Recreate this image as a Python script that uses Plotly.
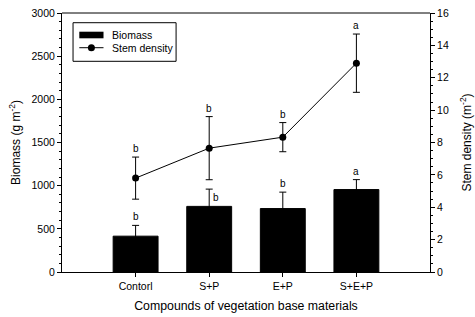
import plotly.graph_objects as go

categories = ["Contorl", "S+P", "E+P", "S+E+P"]
biomass = [415, 760, 735, 955]
biomass_err = [125, 200, 190, 115]
biomass_letters = ["b", "b", "b", "a"]
stem_density = [5.8, 7.65, 8.33, 12.9]
stem_err = [1.3, 1.95, 0.9, 1.8]
stem_letters = ["b", "b", "b", "a"]

FONT = "Liberation Sans, Arial, sans-serif"
BLACK = "#000000"

# pixel offsets for significance letters on bars (S+P letter sits beside its error bar)
bar_letter_shift = {"S+P": (7, -16)}

fig = go.Figure()
fig.add_trace(go.Bar(
    x=categories, y=biomass, name="Biomass",
    marker=dict(color=BLACK, line=dict(color=BLACK, width=1)),
    width=0.61,
    error_y=dict(type="data", array=biomass_err, color=BLACK, thickness=1, width=3.5),
    yaxis="y", showlegend=False,
))
fig.add_trace(go.Scatter(
    x=categories, y=stem_density, name="Stem density",
    mode="lines+markers",
    line=dict(color=BLACK, width=1),
    marker=dict(color=BLACK, size=7),
    error_y=dict(type="data", array=stem_err, color=BLACK, thickness=1, width=3.5),
    yaxis="y2", showlegend=False,
))

annotations = []
for c, v, e, t in zip(categories, biomass, biomass_err, biomass_letters):
    dx, dy = bar_letter_shift.get(c, (0, 1))
    annotations.append(dict(x=c, y=v + e, xref="x", yref="y", text=t, showarrow=False,
                            yanchor="bottom", xshift=dx, yshift=dy,
                            font=dict(size=10, color=BLACK, family=FONT)))
for c, v, e, t in zip(categories, stem_density, stem_err, stem_letters):
    annotations.append(dict(x=c, y=v + e, xref="x", yref="y2", text=t, showarrow=False,
                            yanchor="bottom", yshift=1,
                            font=dict(size=10, color=BLACK, family=FONT)))

# manual legend (box, wide bar swatch, line+marker swatch, labels)
annotations += [
    dict(x=0.1304, y=0.915, xref="paper", yref="paper", text="Biomass", showarrow=False,
         xanchor="left", yanchor="middle", font=dict(size=10.5, color=BLACK, family=FONT)),
    dict(x=0.1304, y=0.866, xref="paper", yref="paper", text="Stem density", showarrow=False,
         xanchor="left", yanchor="middle", font=dict(size=10.5, color=BLACK, family=FONT)),
]
shapes = [
    dict(type="line", xref="paper", yref="paper", x0=0, x1=1, y0=1, y1=1,
         line=dict(color=BLACK, width=1)),
    dict(type="rect", xref="paper", yref="paper", x0=0.030, x1=0.310, y0=0.8135, y1=0.9625,
         line=dict(color=BLACK, width=1), fillcolor="white"),
    dict(type="rect", xref="paper", yref="paper", x0=0.047, x1=0.1128, y0=0.9023, y1=0.9278,
         line=dict(color=BLACK, width=0), fillcolor=BLACK),
    dict(type="line", xref="paper", yref="paper", x0=0.047, x1=0.1128, y0=0.866, y1=0.866,
         line=dict(color=BLACK, width=1)),
    dict(type="circle", xref="paper", yref="paper", xsizemode="pixel", ysizemode="pixel",
         xanchor=0.0799, yanchor=0.866, x0=-3.5, x1=3.5, y0=-3.5, y1=3.5,
         line=dict(color=BLACK, width=0), fillcolor=BLACK),
]

axis_common = dict(showline=True, linecolor=BLACK, linewidth=1, ticks="outside",
                   ticklen=4, tickcolor=BLACK, showgrid=False, zeroline=False,
                   automargin=False,
                   tickfont=dict(size=10.5, color=BLACK, family=FONT))

fig.update_layout(
    width=475, height=317,
    margin=dict(l=62, r=45, t=13, b=45),
    plot_bgcolor="white", paper_bgcolor="white",
    font=dict(family=FONT, color=BLACK, size=11),
    showlegend=False,
    xaxis=dict(**axis_common, range=[-1, 4],
               title=dict(text="Compounds of vegetation base materials",
                          font=dict(size=12.3), standoff=10)),
    yaxis=dict(**axis_common, range=[0, 3000], dtick=500,
               minor=dict(dtick=100, ticks="outside", ticklen=2, tickcolor=BLACK),
               title=dict(text="Biomass (g m<sup>-2</sup>)", font=dict(size=12), standoff=8)),
    yaxis2=dict(**axis_common, range=[0, 16], dtick=2, overlaying="y", side="right",
                minor=dict(dtick=0.5, ticks="outside", ticklen=2, tickcolor=BLACK),
                title=dict(text="Stem density (m<sup>-2</sup>)", font=dict(size=12), standoff=14)),
    annotations=annotations,
    shapes=shapes,
)

fig.write_html("out.html", config={"displayModeBar": False},
               post_script="document.body.style.margin='0';")
